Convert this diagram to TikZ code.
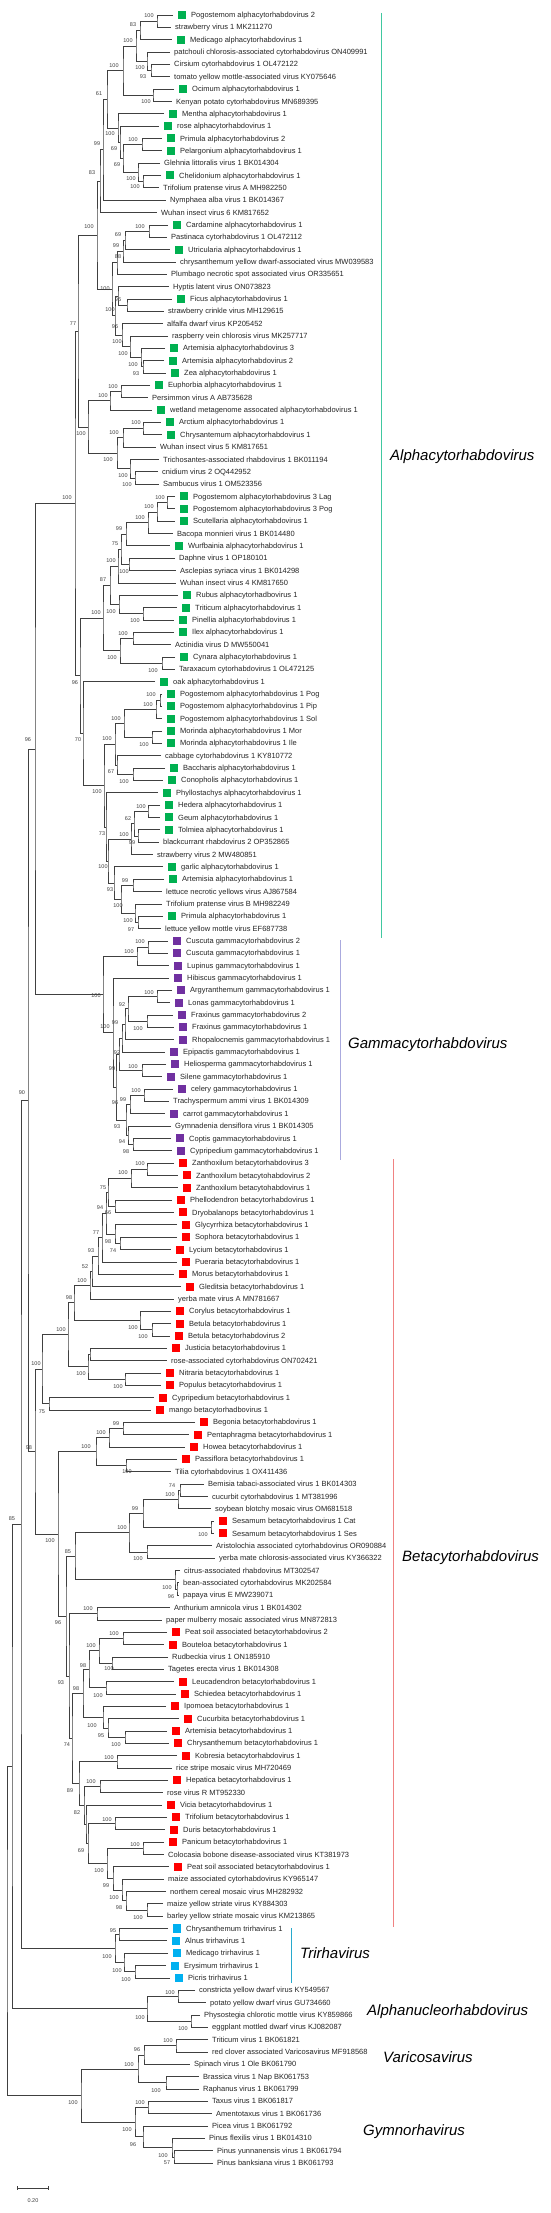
\documentclass[tikz,border=0pt]{standalone}
\usepackage{fontspec}
\setmainfont{Liberation Sans}
\usetikzlibrary{calc}
\definecolor{cg}{RGB}{0,176,80}
\definecolor{cp}{RGB}{112,48,160}
\definecolor{cr}{RGB}{255,0,0}
\definecolor{cc}{RGB}{0,176,240}
\definecolor{barAc}{RGB}{64,200,160}
\definecolor{barGc}{RGB}{170,170,222}
\definecolor{barBc}{RGB}{240,130,130}
\definecolor{barTc}{RGB}{40,170,205}
\newcount\bsn
\newcommand\Lf[4]{\coordinate (#1) at ({#3-4},{15+(#2-1)*12.345});\node[lt] (#1t) at (#3,{17.6+(#2-1)*12.345}) {#4};}
\newcommand\Lm[5]{\coordinate (#1) at ({#3-18},{15+(#2-1)*12.345});\node[mk,fill=#4] (#1m) at ({#3-9},{15+(#2-1)*12.345}) {};\node[lt] (#1t) at (#3,{17.6+(#2-1)*12.345}) {#5};}
\newcommand\Nd[4]{\path let \p1=(#3), \p2=(#4) in coordinate (#1) at (#2pt,{0.5*\y1+0.5*\y2});\draw[br] (#3) -| (#1) |- (#4);}
\newcommand\Bs[3]{\global\advance\bsn by 1 \node[bs] (bs\the\bsn) at (#1,#2) {#3};}
\tikzset{
 br/.style={line width=0.7pt, draw=black!75},
 lt/.style={anchor=base west, inner sep=0pt, font=\fontsize{7.5}{9}\selectfont, text=black!85},
 mk/.style={rectangle, minimum size=8pt, inner sep=0pt, draw=none},
 bs/.style={inner sep=0pt, font=\fontsize{5.5}{6}\selectfont, text=black!75},
 cl/.style={anchor=west, inner sep=0pt, font=\fontsize{15}{18}\selectfont\itshape},
 cbar/.style={line width=1pt},
}
\begin{document}
\begin{tikzpicture}[x=1pt,y=-1pt]
\useasboundingbox (0,0) rectangle (550,2213);
\fill[white] (0,0) rectangle (550,2213);
% ---------------- leaves ----------------
\Lm{l1}{1}{191}{cg}{Pogostemom alphacytorhabdovirus 2}
\Lf{l2}{2}{175}{strawberry virus 1 MK211270}
\Lm{l3}{3}{190}{cg}{Medicago alphacytorhabdovirus 1}
\Lf{l4}{4}{174}{patchouli chlorosis-associated cytorhabdovirus ON409991}
\Lf{l5}{5}{174}{Cirsium cytorhabdovirus 1 OL472122}
\Lf{l6}{6}{174}{tomato yellow mottle-associated virus KY075646}
\Lm{l7}{7}{192}{cg}{Ocimum alphacytorhabdovirus 1}
\Lf{l8}{8}{176}{Kenyan potato cytorhabdovirus MN689395}
\Lm{l9}{9}{182}{cg}{Mentha alphacytorhabdovirus 1}
\Lm{l10}{10}{177}{cg}{rose alphacytorhabdovirus 1}
\Lm{l11}{11}{180}{cg}{Primula alphacytorhabdovirus 2}
\Lm{l12}{12}{180}{cg}{Pelargonium alphacytorhabdovirus 1}
\Lf{l13}{13}{164}{Glehnia littoralis virus 1 BK014304}
\Lm{l14}{14}{179}{cg}{Chelidonium alphacytorhabdovirus 1}
\Lf{l15}{15}{163}{Trifolium pratense virus A MH982250}
\Lf{l16}{16}{170}{Nymphaea alba virus 1 BK014367}
\Lf{l17}{17}{161}{Wuhan insect virus 6 KM817652}
\Lm{l18}{18}{186}{cg}{Cardamine alphacytorhabdovirus 1}
\Lf{l19}{19}{171}{Pastinaca cytorhabdovirus 1 OL472112}
\Lm{l20}{20}{188}{cg}{Utricularia alphacytorhabdovirus 1}
\Lf{l21}{21}{180}{chrysanthemum yellow dwarf-associated virus MW039583}
\Lf{l22}{22}{171}{Plumbago necrotic spot associated virus OR335651}
\Lf{l23}{23}{173}{Hyptis latent virus ON073823}
\Lm{l24}{24}{190}{cg}{Ficus alphacytorhabdovirus 1}
\Lf{l25}{25}{168}{strawberry crinkle virus MH129615}
\Lf{l26}{26}{167}{alfalfa dwarf virus KP205452}
\Lf{l27}{27}{172}{raspberry vein chlorosis virus MK257717}
\Lm{l28}{28}{183}{cg}{Artemisia alphacytorhabdovirus 3}
\Lm{l29}{29}{182}{cg}{Artemisia alphacytorhabdovirus 2}
\Lm{l30}{30}{184}{cg}{Zea alphacytorhabdovirus 1}
\Lm{l31}{31}{168}{cg}{Euphorbia alphacytorhabdovirus 1}
\Lf{l32}{32}{152}{Persimmon virus A AB735628}
\Lm{l33}{33}{170}{cg}{wetland metagenome assocated alphacytorhabdovirus 1}
\Lm{l34}{34}{179}{cg}{Arctium alphacytorhabdovirus 1}
\Lm{l35}{35}{180}{cg}{Chrysantemum alphacytorhabdovirus 1}
\Lf{l36}{36}{160}{Wuhan insect virus 5 KM817651}
\Lf{l37}{37}{163}{Trichosantes-associated rhabdovirus 1 BK011194}
\Lf{l38}{38}{162}{cnidium virus 2 OQ442952}
\Lf{l39}{39}{163}{Sambucus virus 1 OM523356}
\Lm{l40}{40}{193}{cg}{Pogostemom alphacytorhabdovirus 3 Lag}
\Lm{l41}{41}{193}{cg}{Pogostemom alphacytorhabdovirus 3 Pog}
\Lm{l42}{42}{193}{cg}{Scutellaria alphacytorhabdovirus 1}
\Lf{l43}{43}{177}{Bacopa monnieri virus 1 BK014480}
\Lm{l44}{44}{188}{cg}{Wurfbainia alphacytorhabdovirus 1}
\Lf{l45}{45}{179}{Daphne virus 1 OP180101}
\Lf{l46}{46}{180}{Asclepias syriaca virus 1 BK014298}
\Lf{l47}{47}{180}{Wuhan insect virus 4 KM817650}
\Lm{l48}{48}{196}{cg}{Rubus alphacytorhadbovirus 1}
\Lm{l49}{49}{195}{cg}{Triticum alphacytorhabdovirus 1}
\Lm{l50}{50}{192}{cg}{Pinellia alphacytorhabdovirus 1}
\Lm{l51}{51}{192}{cg}{Ilex alphacytorhabdovirus 1}
\Lf{l52}{52}{175}{Actinidia virus D MW550041}
\Lm{l53}{53}{193}{cg}{Cynara alphacytorhabdovirus 1}
\Lf{l54}{54}{179}{Taraxacum cytorhabdovirus 1 OL472125}
\Lm{l55}{55}{173}{cg}{oak alphacytorhabdovirus 1}
\Lm{l56}{56}{180}{cg}{Pogostemom alphacytorhabdovirus 1 Pog}
\Lm{l57}{57}{180}{cg}{Pogostemom alphacytorhabdovirus 1 Pip}
\Lm{l58}{58}{180}{cg}{Pogostemom alphacytorhabdovirus 1 Sol}
\Lm{l59}{59}{180}{cg}{Morinda alphacytorhabdovirus 1 Mor}
\Lm{l60}{60}{180}{cg}{Morinda alphacytorhabdovirus 1 Ile}
\Lf{l61}{61}{165}{cabbage cytorhabdovirus 1 KY810772}
\Lm{l62}{62}{183}{cg}{Baccharis alphacytorhabdovirus 1}
\Lm{l63}{63}{181}{cg}{Conopholis alphacytorhabdovirus 1}
\Lm{l64}{64}{176}{cg}{Phyllostachys alphacytorhabdovirus 1}
\Lm{l65}{65}{178}{cg}{Hedera alphacytorhabdovirus 1}
\Lm{l66}{66}{178}{cg}{Geum alphacytorhabdovirus 1}
\Lm{l67}{67}{178}{cg}{Tolmiea alphacytorhabdovirus 1}
\Lf{l68}{68}{163}{blackcurrant rhabdovirus 2 OP352865}
\Lf{l69}{69}{157}{strawberry virus 2 MW480851}
\Lm{l70}{70}{181}{cg}{garlic alphacytorhabdovirus 1}
\Lm{l71}{71}{182}{cg}{Artemisia alphacytorhabdovirus 1}
\Lf{l72}{72}{166}{lettuce necrotic yellows virus AJ867584}
\Lf{l73}{73}{166}{Trifolium pratense virus B MH982249}
\Lm{l74}{74}{181}{cg}{Primula alphacytorhabdovirus 1}
\Lf{l75}{75}{165}{lettuce yellow mottle virus EF687738}
\Lm{l76}{76}{186}{cp}{Cuscuta gammacytorhabdovirus 2}
\Lm{l77}{77}{186}{cp}{Cuscuta gammacytorhabdovirus 1}
\Lm{l78}{78}{187}{cp}{Lupinus gammacytorhabdovirus 1}
\Lm{l79}{79}{187}{cp}{Hibiscus gammacytorhabdovirus 1}
\Lm{l80}{80}{190}{cp}{Argyranthemum gammacytorhabdovirus 1}
\Lm{l81}{81}{188}{cp}{Lonas gammacytorhabdovirus 1}
\Lm{l82}{82}{191}{cp}{Fraxinus gammacytorhabdovirus 2}
\Lm{l83}{83}{192}{cp}{Fraxinus gammacytorhabdovirus 1}
\Lm{l84}{84}{192}{cp}{Rhopalocnemis gammacytorhabdovirus 1}
\Lm{l85}{85}{183}{cp}{Epipactis gammacytorhabdovirus 1}
\Lm{l86}{86}{184}{cp}{Heliosperma gammacytorhabdovirus 1}
\Lm{l87}{87}{180}{cp}{Silene gammacytorhabdovirus 1}
\Lm{l88}{88}{191}{cp}{celery gammacytorhabdovirus 1}
\Lf{l89}{89}{173}{Trachyspermum ammi virus 1 BK014309}
\Lm{l90}{90}{183}{cp}{carrot gammacytorhabdovirus 1}
\Lf{l91}{91}{175}{Gymnadenia densiflora virus 1 BK014305}
\Lm{l92}{92}{189}{cp}{Coptis gammacytorhabdovirus 1}
\Lm{l93}{93}{190}{cp}{Cypripedium gammacytorhabdovirus 1}
\Lm{l94}{94}{192}{cr}{Zanthoxilum betacytorhabdovirus 3}
\Lm{l95}{95}{196}{cr}{Zanthoxilum betacytohabdovirus 2}
\Lm{l96}{96}{196}{cr}{Zanthoxilum betacytohabdovirus 1}
\Lm{l97}{97}{190}{cr}{Phellodendron betacytorhabdovirus 1}
\Lm{l98}{98}{192}{cr}{Dryobalanops betacytorhabdovirus 1}
\Lm{l99}{99}{195}{cr}{Glycyrrhiza betacytorhabdovirus 1}
\Lm{l100}{100}{195}{cr}{Sophora betacytorhabdovirus 1}
\Lm{l101}{101}{189}{cr}{Lycium betacytorhabdovirus 1}
\Lm{l102}{102}{195}{cr}{Pueraria betacytorhabdovirus 1}
\Lm{l103}{103}{192}{cr}{Morus betacytorhabdovirus 1}
\Lm{l104}{104}{199}{cr}{Gleditsia betacytorhabdovirus 1}
\Lf{l105}{105}{178}{yerba mate virus A MN781667}
\Lm{l106}{106}{189}{cr}{Corylus betacytorhabdovirus 1}
\Lm{l107}{107}{189}{cr}{Betula betacytorhabdovirus 1}
\Lm{l108}{108}{188}{cr}{Betula betacytorhabdovirus 2}
\Lm{l109}{109}{185}{cr}{Justicia betacytorhabdovirus 1}
\Lf{l110}{110}{171}{rose-associated cytorhabdovirus ON702421}
\Lm{l111}{111}{179}{cr}{Nitraria betacytorhabdovirus 1}
\Lm{l112}{112}{179}{cr}{Populus betacytorhabdovirus 1}
\Lm{l113}{113}{172}{cr}{Cypripedium betacytorhabdovirus 1}
\Lm{l114}{114}{169}{cr}{mango betacytorhadbovirus 1}
\Lm{l115}{115}{213}{cr}{Begonia betacytorhabdovirus 1}
\Lm{l116}{116}{207}{cr}{Pentaphragma betacytorhabdovirus 1}
\Lm{l117}{117}{203}{cr}{Howea betacytorhabdovirus 1}
\Lm{l118}{118}{195}{cr}{Passiflora betacytorhabdovirus 1}
\Lf{l119}{119}{175}{Tilia cytorhabdovirus 1 OX411436}
\Lf{l120}{120}{208}{Bemisia tabaci-associated virus 1 BK014303}
\Lf{l121}{121}{212}{cucurbit cytorhabdovirus 1 MT381996}
\Lf{l122}{122}{215}{soybean blotchy mosaic virus OM681518}
\Lm{l123}{123}{232}{cr}{Sesamum betacytorhabdovirus 1 Cat}
\Lm{l124}{124}{232}{cr}{Sesamum betacytorhabdovirus 1 Ses}
\Lf{l125}{125}{216}{Aristolochia associated cytorhabdovirus OR090884}
\Lf{l126}{126}{219}{yerba mate chlorosis-associated virus KY366322}
\Lf{l127}{127}{184}{citrus-associated rhabdovirus MT302547}
\Lf{l128}{128}{183}{bean-associated cytorhabdovirus MK202584}
\Lf{l129}{129}{183}{papaya virus E MW239071}
\Lf{l130}{130}{174}{Anthurium amnicola virus 1 BK014302}
\Lf{l131}{131}{166}{paper mulberry mosaic associated virus MN872813}
\Lm{l132}{132}{185}{cr}{Peat soil associated betacytorhabdovirus 2}
\Lm{l133}{133}{182}{cr}{Bouteloa betacytorhabdovirus 1}
\Lf{l134}{134}{172}{Rudbeckia virus 1 ON185910}
\Lf{l135}{135}{168}{Tagetes erecta virus 1 BK014308}
\Lm{l136}{136}{192}{cr}{Leucadendron betacytorhabdovirus 1}
\Lm{l137}{137}{194}{cr}{Schiedea betacytorhabdovirus 1}
\Lm{l138}{138}{184}{cr}{Ipomoea betacytorhabdovirus 1}
\Lm{l139}{139}{197}{cr}{Cucurbita betacytorhabdovirus 1}
\Lm{l140}{140}{185}{cr}{Artemisia betacytorhabdovirus 1}
\Lm{l141}{141}{187}{cr}{Chrysanthemum betacytorhabdovirus 1}
\Lm{l142}{142}{195}{cr}{Kobresia betacytorhabdovirus 1}
\Lf{l143}{143}{176}{rice stripe mosaic virus MH720469}
\Lm{l144}{144}{186}{cr}{Hepatica betacytorhabdovirus 1}
\Lf{l145}{145}{167}{rose virus R MT952330}
\Lm{l146}{146}{180}{cr}{Vicia betacytorhabdovirus 1}
\Lm{l147}{147}{185}{cr}{Trifolium betacytorhabdovirus 1}
\Lm{l148}{148}{183}{cr}{Duris betacytorhabdovirus 1}
\Lm{l149}{149}{182}{cr}{Panicum betacytorhabdovirus 1}
\Lf{l150}{150}{168}{Colocasia bobone disease-associated virus KT381973}
\Lm{l151}{151}{187}{cr}{Peat soil associated betacytorhabdovirus 1}
\Lf{l152}{152}{168}{maize associated cytorhabdovirus KY965147}
\Lf{l153}{153}{170}{northern cereal mosaic virus MH282932}
\Lf{l154}{154}{167}{maize yellow striate virus KY884303}
\Lf{l155}{155}{167}{barley yellow striate mosaic virus KM213865}
\Lm{l156}{156}{186}{cc}{Chrysanthemum trirhavirus 1}
\Lm{l157}{157}{185}{cc}{Alnus trirhavirus 1}
\Lm{l158}{158}{186}{cc}{Medicago trirhavirus 1}
\Lm{l159}{159}{184}{cc}{Erysimum trirhavirus 1}
\Lm{l160}{160}{188}{cc}{Picris trirhavirus 1}
\Lf{l161}{161}{199}{constricta yellow dwarf virus KY549567}
\Lf{l162}{162}{210}{potato yellow dwarf virus GU734660}
\Lf{l163}{163}{204}{Physostegia chlorotic mottle virus KY859866}
\Lf{l164}{164}{212}{eggplant mottled dwarf virus KJ082087}
\Lf{l165}{165}{212}{Triticum virus 1 BK061821}
\Lf{l166}{166}{212}{red clover associated Varicosavirus MF918568}
\Lf{l167}{167}{194}{Spinach virus 1 Ole BK061790}
\Lf{l168}{168}{203}{Brassica virus 1 Nap BK061753}
\Lf{l169}{169}{203}{Raphanus virus 1 BK061799}
\Lf{l170}{170}{212}{Taxus virus 1 BK061817}
\Lf{l171}{171}{216}{Amentotaxus virus 1 BK061736}
\Lf{l172}{172}{212}{Picea virus 1 BK061792}
\Lf{l173}{173}{209}{Pinus flexilis virus 1 BK014310}
\Lf{l174}{174}{217}{Pinus yunnanensis virus 1 BK061794}
\Lf{l175}{175}{217}{Pinus banksiana virus 1 BK061793}
% ---------------- internal nodes: Alpha ----------------
\Nd{a1}{157}{l1}{l2}
\Nd{a2}{140}{a1}{l3}
\Nd{a3}{151}{l5}{l6}
\Nd{a4}{147}{l4}{a3}
\Nd{a5}{136}{a2}{a4}
\Nd{a6}{153}{l7}{l8}
\Nd{a7}{123}{a5}{a6}
\Nd{a8}{142}{l11}{l12}
\Nd{a9}{143}{l14}{l15}
\Nd{a10}{138}{l13}{a9}
\Nd{a11}{123}{a8}{a10}
\Nd{a12}{120}{l10}{a11}
\Nd{a13}{118}{l9}{a12}
\Nd{a14}{107}{a7}{a13}
\Nd{a15}{103}{a14}{l16}
\Nd{a16}{100}{a15}{l17}
\Nd{a17}{149}{l18}{l19}
\Nd{a18}{125}{a17}{l20}
\Nd{a19}{123}{a18}{l21}
\Nd{a20}{117}{a19}{l22}
\Nd{a21}{127}{l24}{l25}
\Nd{a22}{118}{l23}{a21}
\Nd{a23}{143}{l29}{l30}
\Nd{a24}{141}{l28}{a23}
\Nd{a25}{130}{l27}{a24}
\Nd{a26}{122}{l26}{a25}
\Nd{a27}{115}{a22}{a26}
\Nd{a28}{112}{a20}{a27}
\Nd{a29}{97}{a16}{a28}
\Nd{a30}{121}{l31}{l32}
\Nd{a31}{110}{a30}{l33}
\Nd{a32}{143}{l34}{l35}
\Nd{a33}{123}{a32}{l36}
\Nd{a34}{135}{l38}{l39}
\Nd{a35}{130}{l37}{a34}
\Nd{a36}{117}{a33}{a35}
\Nd{a37}{88}{a31}{a36}
\Nd{a38}{78}{a29}{a37}
\Nd{a39}{167}{l40}{l41}
\Nd{a40}{157}{a39}{l42}
\Nd{a41}{148}{a40}{l43}
\Nd{a42}{126}{a41}{l44}
\Nd{a43}{129}{l45}{l46}
\Nd{a44}{121}{a42}{a43}
\Nd{a45}{118}{a44}{l47}
\Nd{a46}{143}{l49}{l50}
\Nd{a47}{119}{l48}{a46}
\Nd{a48}{110}{a45}{a47}
\Nd{a49}{133}{l51}{l52}
\Nd{a50}{162}{l53}{l54}
\Nd{a51}{120}{a49}{a50}
\Nd{a52}{103}{a48}{a51}
\Nd{a53}{160}{l56}{l57}
\Nd{a54}{156}{a53}{l58}
\Nd{a55}{152}{l59}{l60}
\Nd{a56}{124}{a54}{a55}
\Nd{a57}{133}{l62}{l63}
\Nd{a58}{117}{l61}{a57}
\Nd{a59}{115}{a56}{a58}
\Nd{a60}{148}{l65}{l66}
\Nd{a61}{138}{l67}{l68}
\Nd{a62}{134}{a60}{a61}
\Nd{a63}{131}{a62}{l69}
\Nd{a64}{138}{l74}{l75}
\Nd{a65}{135}{l73}{a64}
\Nd{a66}{133}{l71}{l72}
\Nd{a67}{121}{a66}{a65}
\Nd{a68}{114}{l70}{a67}
\Nd{a69}{108}{a63}{a68}
\Nd{a70}{106}{l64}{a69}
\Nd{a71}{104}{a59}{a70}
\Nd{a72}{83}{l55}{a71}
\Nd{a73}{80}{a52}{a72}
\Nd{a74}{75}{a38}{a73}
% ---------------- Gamma ----------------
\Nd{g1}{148}{l76}{l77}
\Nd{g2}{137}{g1}{l78}
\Nd{g3}{157}{l80}{l81}
\Nd{g4}{147}{l82}{l83}
\Nd{g5}{128}{g3}{g4}
\Nd{g6}{125}{g5}{l84}
\Nd{g7}{122}{g6}{l85}
\Nd{g8}{142}{l86}{l87}
\Nd{g9}{119}{g7}{g8}
\Nd{g10}{144}{l88}{l89}
\Nd{g11}{130}{g10}{l90}
\Nd{g12}{133}{l92}{l93}
\Nd{g13}{128}{l91}{g12}
\Nd{g14}{126}{g11}{g13}
\Nd{g15}{116}{g9}{g14}
\Nd{g16}{113}{l79}{g15}
\Nd{g17}{103}{g2}{g16}
\Nd{ag}{35}{a74}{g17}
% ---------------- Beta ----------------
\Nd{b1}{147}{l94}{l95}
\Nd{b2}{131}{b1}{l96}
\Nd{b3}{115}{l97}{l98}
\Nd{b4}{108}{b2}{b3}
\Nd{b5}{120}{l100}{l101}
\Nd{b6}{115}{l99}{b5}
\Nd{b7}{106}{b4}{b6}
\Nd{b8}{102}{b7}{l102}
\Nd{b9}{98}{b8}{l103}
\Nd{b10}{92}{b9}{l104}
\Nd{b11}{90}{b10}{l105}
\Nd{b12}{152}{l107}{l108}
\Nd{b13}{140}{l106}{b12}
\Nd{b14}{74}{b11}{b13}
\Nd{b15}{90}{l109}{l110}
\Nd{b16}{125}{l111}{l112}
\Nd{b17}{88}{b15}{b16}
\Nd{b18}{68}{b14}{b17}
\Nd{b19}{49}{l113}{l114}
\Nd{b20}{42}{b18}{b19}
\Nd{b21}{123}{l115}{l116}
\Nd{b22}{109}{b21}{l117}
\Nd{b23}{126}{l118}{l119}
\Nd{b24}{96}{b22}{b23}
\Nd{b25}{180}{l120}{l121}
\Nd{b26}{178}{b25}{l122}
\Nd{b27}{211}{l123}{l124}
\Nd{b28}{143}{b26}{b27}
\Nd{b29}{147}{l125}{l126}
\Nd{b30}{129}{b28}{b29}
\Nd{b31}{177}{l128}{l129}
\Nd{b32}{175}{l127}{b31}
\Nd{b33}{75}{b30}{b32}
\Nd{b34}{97}{l130}{l131}
\Nd{b35}{123}{l132}{l133}
\Nd{b36}{112}{l134}{l135}
\Nd{b37}{99}{b35}{b36}
\Nd{b38}{106}{l136}{l137}
\Nd{b39}{89}{b37}{b38}
\Nd{b40}{125}{l140}{l141}
\Nd{b41}{108}{l139}{b40}
\Nd{b42}{103}{l138}{b41}
\Nd{b43}{83}{b39}{b42}
\Nd{b44}{117}{l142}{l143}
\Nd{b45}{100}{l144}{l145}
\Nd{b46}{115}{l147}{l148}
\Nd{b47}{143}{l149}{l150}
\Nd{b48}{147}{l154}{l155}
\Nd{b49}{126}{l153}{b48}
\Nd{b50}{122}{l152}{b49}
\Nd{b51}{113}{l151}{b50}
\Nd{b52}{107}{b47}{b51}
\Nd{b53}{88}{b46}{b52}
\Nd{b54}{86}{l146}{b53}
\Nd{b55}{84}{b45}{b54}
\Nd{b56}{79}{b44}{b55}
\Nd{b57}{72}{b43}{b56}
\Nd{b58}{69}{b34}{b57}
\Nd{b59}{66}{b33}{b58}
\Nd{b60}{58}{b24}{b59}
\Nd{b61}{35}{b20}{b60}
% ---------------- others ----------------
\Nd{t1}{119}{l156}{l157}
\Nd{t2}{135}{l159}{l160}
\Nd{t3}{124}{l158}{t2}
\Nd{t4}{115}{t1}{t3}
\Nd{n1}{178}{l161}{l162}
\Nd{n2}{191}{l163}{l164}
\Nd{n3}{147}{n1}{n2}
\Nd{v1}{176}{l165}{l166}
\Nd{v2}{144}{v1}{l167}
\Nd{v3}{166}{l168}{l169}
\Nd{v4}{138}{v2}{v3}
\Nd{gy1}{148}{l170}{l171}
\Nd{gy2}{174}{l174}{l175}
\Nd{gy3}{172}{l173}{gy2}
\Nd{gy4}{143}{l172}{gy3}
\Nd{gy5}{135}{gy1}{gy4}
\Nd{vg}{81}{v4}{gy5}
\Nd{agb}{28}{ag}{b61}
\Nd{agbt}{21}{agb}{t4}
\Nd{r1}{12}{agbt}{n3}
\Nd{root}{7}{r1}{vg}
% ---------------- bootstrap values ----------------
\Bs{149}{16}{100}\Bs{133}{25}{83}\Bs{128}{41}{100}\Bs{114}{66}{100}\Bs{140}{68}{100}
\Bs{143}{77}{93}\Bs{146}{102}{100}\Bs{99}{94}{61}\Bs{110}{134}{100}\Bs{114}{149}{69}
\Bs{133}{140}{100}\Bs{97}{144}{99}\Bs{117}{165}{69}\Bs{131}{179}{100}\Bs{92}{173}{83}
\Bs{135}{187}{100}
\Bs{89}{227}{100}\Bs{140}{227}{100}\Bs{118}{235}{69}\Bs{116}{246}{99}\Bs{118}{257}{88}
\Bs{105}{289}{100}\Bs{118}{300}{96}\Bs{110}{310}{100}\Bs{73}{324}{77}\Bs{115}{327}{96}
\Bs{117}{342}{100}\Bs{123}{354}{100}\Bs{133}{365}{100}\Bs{136}{374}{93}
\Bs{113}{387}{100}\Bs{103}{396}{100}\Bs{136}{423}{100}\Bs{114}{433}{100}\Bs{81}{434}{100}
\Bs{108}{460}{100}\Bs{123}{476}{100}\Bs{127}{485}{100}\Bs{67}{498}{100}\Bs{160}{498}{100}
\Bs{149}{507}{100}\Bs{140}{518}{100}\Bs{119}{529}{99}\Bs{115}{544}{75}
\Bs{111}{561}{100}\Bs{124}{572}{100}\Bs{103}{580}{87}\Bs{111}{612}{100}\Bs{96}{613}{100}
\Bs{135}{621}{100}\Bs{123}{634}{100}\Bs{112}{658}{100}\Bs{153}{671}{100}\Bs{75}{683}{96}
\Bs{151}{695}{100}\Bs{148}{705}{100}\Bs{116}{719}{100}\Bs{107}{739}{100}\Bs{78}{740}{70}
\Bs{28}{740}{96}
\Bs{144}{745}{100}\Bs{111}{772}{67}\Bs{124}{782}{100}\Bs{97}{792}{100}\Bs{141}{807}{100}
\Bs{128}{819}{62}\Bs{124}{835}{100}\Bs{102}{834}{73}\Bs{132}{843}{99}\Bs{103}{867}{100}
\Bs{125}{881}{99}\Bs{110}{890}{93}\Bs{118}{906}{100}\Bs{128}{921}{100}
\Bs{131}{930}{97}\Bs{140}{942}{100}\Bs{129}{952}{100}\Bs{149}{993}{100}\Bs{96}{996}{100}
\Bs{122}{1005}{92}\Bs{115}{1023}{99}\Bs{105}{1027}{100}\Bs{138}{1029}{100}\Bs{117}{1053}{92}
\Bs{133}{1067}{100}\Bs{112}{1069}{99}\Bs{136}{1091}{100}\Bs{123}{1100}{99}\Bs{115}{1103}{96}
\Bs{22}{1093}{90}
\Bs{117}{1127}{93}\Bs{122}{1142}{94}\Bs{126}{1152}{98}\Bs{140}{1164}{100}\Bs{123}{1173}{100}
\Bs{103}{1188}{75}\Bs{100}{1208}{94}\Bs{108}{1213}{66}\Bs{96}{1233}{77}\Bs{108}{1242}{98}
\Bs{91}{1251}{93}\Bs{113}{1251}{74}\Bs{85}{1267}{52}\Bs{82}{1281}{100}
\Bs{69}{1298}{98}\Bs{133}{1328}{100}\Bs{143}{1337}{100}\Bs{61}{1330}{100}\Bs{36}{1364}{100}
\Bs{81}{1374}{100}\Bs{118}{1387}{100}\Bs{42}{1412}{75}\Bs{116}{1424}{99}\Bs{101}{1433}{100}
\Bs{86}{1447}{100}\Bs{29}{1448}{98}\Bs{127}{1472}{100}
\Bs{172}{1486}{74}\Bs{170}{1495}{100}\Bs{135}{1509}{99}\Bs{12}{1519}{85}\Bs{122}{1528}{100}
\Bs{203}{1535}{100}\Bs{50}{1541}{100}\Bs{68}{1552}{85}\Bs{138}{1559}{100}\Bs{167}{1588}{100}
\Bs{171}{1597}{96}\Bs{88}{1609}{100}\Bs{58}{1623}{96}\Bs{114}{1634}{100}\Bs{91}{1646}{100}
\Bs{83}{1666}{98}\Bs{109}{1669}{100}
\Bs{61}{1683}{93}\Bs{76}{1689}{98}\Bs{98}{1696}{100}\Bs{92}{1726}{100}\Bs{101}{1736}{95}
\Bs{67}{1745}{74}\Bs{116}{1745}{100}\Bs{109}{1758}{100}\Bs{91}{1782}{100}\Bs{70}{1791}{89}
\Bs{77}{1813}{82}\Bs{107}{1820}{100}\Bs{135}{1845}{100}\Bs{81}{1851}{69}
\Bs{99}{1871}{100}\Bs{106}{1886}{99}\Bs{114}{1898}{100}\Bs{119}{1908}{98}\Bs{138}{1918}{100}
\Bs{113}{1931}{95}\Bs{107}{1957}{100}\Bs{117}{1971}{100}\Bs{126}{1980}{100}\Bs{170}{1993}{100}
\Bs{140}{2018}{100}\Bs{183}{2029}{100}
\Bs{168}{2041}{100}\Bs{137}{2050}{96}\Bs{129}{2065}{100}\Bs{156}{2091}{100}\Bs{140}{2103}{100}
\Bs{73}{2103}{100}\Bs{127}{2130}{100}\Bs{133}{2145}{96}\Bs{163}{2156}{100}\Bs{167}{2163}{57}
% ---------------- clade bars and names ----------------
\coordinate (barAt) at (381,13); \coordinate (barAb) at (381,938);
\draw[cbar, barAc] (barAt) -- (barAb);
\coordinate (barGt) at (340,940); \coordinate (barGb) at (340,1160);
\draw[cbar, barGc] (barGt) -- (barGb);
\coordinate (barBt) at (393,1159); \coordinate (barBb) at (393,1927);
\draw[cbar, barBc] (barBt) -- (barBb);
\coordinate (barTt) at (291,1928); \coordinate (barTb) at (291,1983);
\draw[cbar, barTc] (barTt) -- (barTb);
\node[cl] (labA) at (390,457) {Alphacytorhabdovirus};
\node[cl] (labG) at (348,1045) {Gammacytorhabdovirus};
\node[cl] (labB) at (402,1558) {Betacytorhabdovirus};
\node[cl] (labT) at (300,1953) {Trirhavirus};
\node[cl] (labN) at (367,2012) {Alphanucleorhabdovirus};
\node[cl] (labV) at (383,2057) {Varicosavirus};
\node[cl] (labY) at (363,2132) {Gymnorhavirus};
% ---------------- scale bar ----------------
\coordinate (sc1) at (17,2188); \coordinate (sc2) at (48,2188);
\draw[br] (sc1) -- (sc2);
\draw[br] ([yshift=1.8pt]sc1) -- ([yshift=-1.8pt]sc1);
\draw[br] ([yshift=1.8pt]sc2) -- ([yshift=-1.8pt]sc2);
\node[bs] (sclab) at (33,2201) {0.20};
\end{tikzpicture}
\end{document}
